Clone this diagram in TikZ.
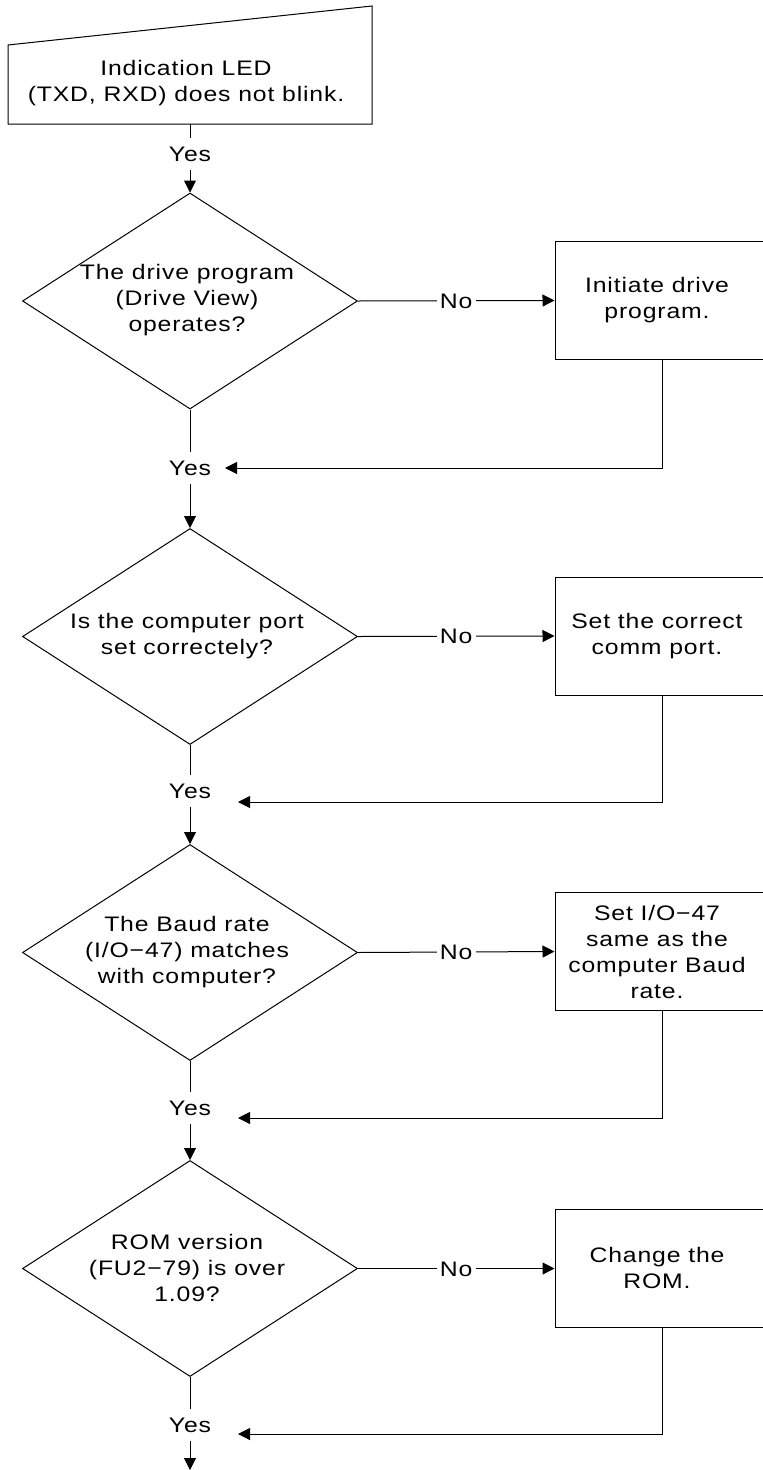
\documentclass[tikz,border=0pt]{standalone}
\usepackage{fontspec}
\setmainfont{Liberation Sans}[FakeStretch=1.18,LetterSpace=4]
\usetikzlibrary{shapes.geometric,arrows.meta,calc}
\begin{document}
\begin{tikzpicture}[x=1pt,y=-1pt,line width=1pt,
  txt/.style={font=\fontsize{21}{26}\selectfont, align=center, inner sep=0pt},
  dia/.style={draw, diamond, minimum width=335pt, minimum height=216pt, inner sep=0pt},
  box/.style={draw, rectangle, minimum width=215pt, minimum height=118pt, inner sep=0pt},
  yes/.style={font=\fontsize{21}{26}\selectfont, text height=15pt, text depth=0pt, inner xsep=2pt, inner ysep=8pt},
  no/.style={font=\fontsize{21}{26}\selectfont, fill=white, text height=15pt, text depth=0pt, inner xsep=3pt, inner ysep=2pt},
  arr/.style={-{Triangle[length=12pt,width=12pt]}}]
\useasboundingbox (0,0) rectangle (763,1470);

% start (manual input)
\draw (8,45) -- (372,6) -- (372,124) -- (8,124) -- cycle;
\node[txt] (start) at (186,83) {Indication LED\\(TXD, RXD) does not blink.};
\coordinate (startb) at (190,124);
\node[yes] (y0) at (190,154) {Yes};
\draw (startb) -- (y0);

% decision 1
\node[dia] (d1) at (190,301) {};
\node[txt] (t1) at (187,300) {The drive program\\(Drive View)\\operates?};
\node[box] (b1) at (662.5,300.5) {};
\node[txt] (bt1) at (657,300) {Initiate drive\\program.};
\draw[arr] (y0) -- (d1.north);
\draw[arr] (d1.east) -- node[no]{No} (b1.west);
\node[yes] (y1) at (190,468) {Yes};
\coordinate (r1) at (225,468);
\draw (d1.south) -- (y1);
\draw[arr] (b1.south) |- (r1);

% decision 2
\node[dia] (d2) at (190,636.5) {};
\node[txt] (t2) at (187,636) {Is the computer port\\set correctely?};
\node[box] (b2) at (662.5,636) {};
\node[txt] (bt2) at (657,636) {Set the correct\\comm port.};
\draw[arr] (y1) -- (d2.north);
\draw[arr] (d2.east) -- node[no]{No} (b2.west);
\node[yes] (y2) at (190,791) {Yes};
\coordinate (r2) at (238,802);
\draw (d2.south) -- (y2);
\draw[arr] (b2.south) |- (r2);

% decision 3
\node[dia] (d3) at (190,952.5) {};
\node[txt] (t3) at (187,952) {The Baud rate\\(I/O−47) matches\\with computer?};
\node[box] (b3) at (662.5,951.5) {};
\node[txt] (bt3) at (657,952) {Set I/O−47\\same as the\\computer Baud\\rate.};
\draw[arr] (y2) -- (d3.north);
\draw[arr] (d3.east) -- node[no]{No} (b3.west);
\node[yes] (y3) at (190,1108) {Yes};
\coordinate (r3) at (238,1118);
\draw (d3.south) -- (y3);
\draw[arr] (b3.south) |- (r3);

% decision 4
\node[dia] (d4) at (190,1268.5) {};
\node[txt] (t4) at (187,1268) {ROM version\\(FU2−79) is over\\1.09?};
\node[box] (b4) at (662.5,1268.5) {};
\node[txt] (bt4) at (657,1268) {Change the\\ROM.};
\draw[arr] (y3) -- (d4.north);
\draw[arr] (d4.east) -- node[no]{No} (b4.west);
\node[yes] (y4) at (190,1425) {Yes};
\coordinate (r4) at (238,1434);
\draw (d4.south) -- (y4);
\draw[arr] (b4.south) |- (r4);
\coordinate (endp) at (190,1470);
\draw[arr] (y4) -- (endp);
\end{tikzpicture}
\end{document}
